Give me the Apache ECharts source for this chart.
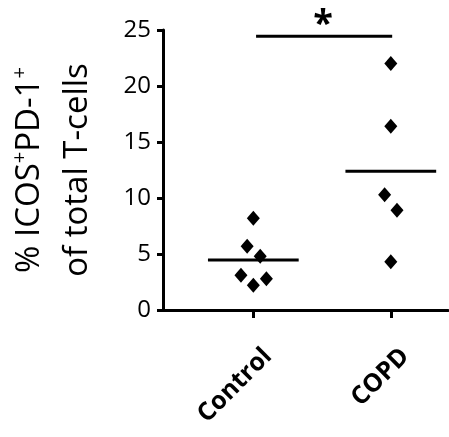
<!DOCTYPE html>
<html>
<head>
<meta charset="utf-8">
<script src="https://cdn.jsdelivr.net/npm/echarts@6/dist/echarts.min.js"></script>
<style>
  html, body { margin: 0; padding: 0; background: #fff; }
  #chart { width: 449px; height: 437px; }
</style>
</head>
<body>
<div id="chart"></div>
<script>
  // groups and values
  var categories = ['Control', 'COPD'];
  var controlValues = [8.2, 5.7, 4.8, 3.1, 2.8, 2.2];
  var copdValues = [22.0, 16.4, 10.3, 8.9, 4.3];
  // horizontal scatter of the dots around each group (axis units)
  var controlJitter = [0, -0.045, 0.05, -0.09, 0.095, 0];
  var copdJitter = [0, 0, -0.045, 0.045, 0];
  var yTicks = [0, 5, 10, 15, 20, 25];
  var sigLabel = '*';
  var sigLevel = 24.45;

  function mean(arr) {
    var s = 0;
    arr.forEach(function (v) { s += v; });
    return s / arr.length;
  }
  function points(vals, jit, pos) {
    return vals.map(function (v, i) { return [pos + jit[i], v]; });
  }
  function meanLine(vals, pos) {
    var m = mean(vals);
    return [[pos - 0.33, m], [pos + 0.33, m]];
  }

  var myChart = echarts.init(document.getElementById('chart'));
  var black = '#000';
  var font = 'Open Sans';

  myChart.setOption({
    backgroundColor: '#fff',
    animation: false,
    grid: { left: 163, right: 1, top: 30, bottom: 127, outerBoundsMode: 'none' },
    xAxis: {
      type: 'value',
      min: 0.343,
      max: 2.416,
      splitLine: { show: false },
      axisLine: { lineStyle: { color: black, width: 3 } },
      axisTick: { customValues: [1, 2], length: 8, lineStyle: { color: black, width: 3 } },
      axisLabel: {
        customValues: [1, 2],
        rotate: 45,
        margin: 28,
        padding: [8, 0, 0, 0],
        verticalAlign: 'top',
        fontFamily: font,
        fontWeight: 'bold',
        fontSize: 25,
        color: black,
        formatter: function (v) { return categories[Math.round(v) - 1]; }
      }
    },
    yAxis: {
      type: 'value',
      min: yTicks[0],
      max: yTicks[yTicks.length - 1],
      interval: 5,
      name: '{t|% ICOS}{s|+}{t|PD-1}{s|+}\n{t|of total T-cells}',
      nameLocation: 'middle',
      nameRotate: 90,
      nameGap: 61,
      nameTextStyle: {
        rich: {
          t: { fontFamily: font, fontSize: 33, color: black, lineHeight: 48 },
          s: { fontFamily: font, fontSize: 20, color: black, lineHeight: 48, verticalAlign: 'top', padding: [4, 0, 0, 0] }
        }
      },
      splitLine: { show: false },
      axisLine: { show: true, lineStyle: { color: black, width: 3 } },
      axisTick: { show: true, length: 6, lineStyle: { color: black, width: 3 } },
      axisLabel: { margin: 12, fontFamily: font, fontSize: 24, color: black }
    },
    series: [
      {
        type: 'scatter',
        symbol: 'diamond',
        symbolSize: [13, 15],
        itemStyle: { color: black, opacity: 1 },
        data: points(controlValues, controlJitter, 1)
      },
      {
        type: 'scatter',
        symbol: 'diamond',
        symbolSize: [13, 15],
        itemStyle: { color: black, opacity: 1 },
        data: points(copdValues, copdJitter, 2)
      },
      {
        type: 'line',
        symbol: 'none',
        lineStyle: { color: black, width: 3 },
        data: meanLine(controlValues, 1)
      },
      {
        type: 'line',
        symbol: 'none',
        lineStyle: { color: black, width: 3 },
        data: meanLine(copdValues, 2)
      },
      {
        type: 'line',
        symbol: 'none',
        lineStyle: { color: black, width: 3 },
        data: [[1.02, sigLevel], [2.01, sigLevel]]
      },
      {
        type: 'scatter',
        symbol: 'circle',
        symbolSize: 2,
        itemStyle: { color: 'rgba(0,0,0,0)', opacity: 1 },
        data: [[1.5, sigLevel]],
        label: {
          show: true,
          position: 'top',
          distance: 0,
          offset: [1, 8],
          formatter: sigLabel,
          fontFamily: font,
          fontWeight: 'bold',
          fontSize: 36,
          color: black
        },
        z: 10
      }
    ]
  });
</script>
</body>
</html>
